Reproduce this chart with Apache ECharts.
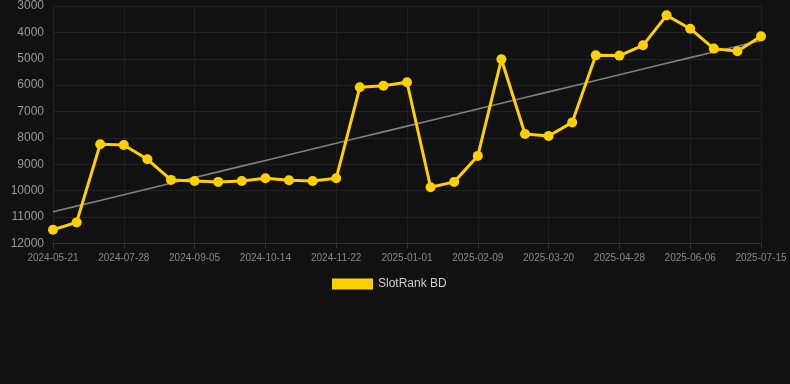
<!DOCTYPE html>
<html>
<head>
<meta charset="utf-8">
<script src="https://cdn.jsdelivr.net/npm/echarts@6/dist/echarts.min.js"></script>
<style>
html,body{margin:0;padding:0;background:#111111;}
#chart{width:790px;height:384px;}
</style>
</head>
<body>
<div id="chart"></div>
<script>
var dates = [
  '2024-05-21','2024-06-12','2024-07-15','2024-07-28','2024-08-10','2024-08-23',
  '2024-09-05','2024-09-18','2024-10-01','2024-10-14','2024-10-27','2024-11-09',
  '2024-11-22','2024-12-05','2024-12-19','2025-01-01','2025-01-14','2025-01-27',
  '2025-02-09','2025-02-22','2025-03-07','2025-03-20','2025-04-02','2025-04-15',
  '2025-04-28','2025-05-11','2025-05-24','2025-06-06','2025-06-19','2025-07-02',
  '2025-07-15'
];
var rankValues = [
  11480, 11200, 8240, 8265, 8810, 9590, 9630, 9665, 9630, 9530, 9605, 9630, 9530,
  6080, 6020, 5890, 9870, 9665, 8680, 5020, 7850, 7925, 7410, 4870, 4880, 4490,
  3355, 3860, 4615, 4715, 4150
];
var seriesName = 'SlotRank BD';
var yMin = 3000, yMax = 12000, yStep = 1000;

// linear regression trend computed from the data
var n = rankValues.length, sx = 0, sy = 0, sxy = 0, sxx = 0;
for (var i = 0; i < n; i++) { sx += i; sy += rankValues[i]; sxy += i * rankValues[i]; sxx += i * i; }
var slope = (n * sxy - sx * sy) / (n * sxx - sx * sx);
var intercept = (sy - slope * sx) / n;
var trend = rankValues.map(function (_, i) { return Math.round(intercept + slope * i); });

var chart = echarts.init(document.getElementById('chart'));
chart.setOption({
  backgroundColor: '#111111',
  animation: false,
  grid: { left: 53, right: 29, top: 6, bottom: 140.5 },
  legend: {
    data: [seriesName],
    top: 273,
    left: 327,
    itemWidth: 41,
    itemHeight: 11,
    itemGap: 10,
    icon: 'rect',
    textStyle: { color: '#cccccc', fontSize: 12, fontFamily: 'Arial, Liberation Sans, sans-serif' }
  },
  xAxis: {
    type: 'category',
    data: dates,
    boundaryGap: false,
    axisLine: { lineStyle: { color: '#333333' } },
    axisTick: { show: true, interval: 2, lineStyle: { color: '#333333' } },
    axisLabel: { interval: 2, color: '#888888', fontSize: 10, margin: 10, fontFamily: 'Arial, Liberation Sans, sans-serif' },
    splitLine: { show: true, interval: 2, lineStyle: { color: '#1f1f1f' } }
  },
  yAxis: {
    type: 'value',
    inverse: true,
    min: yMin,
    max: yMax,
    interval: yStep,
    axisLine: { show: false },
    axisTick: { show: false },
    axisLabel: { color: '#999999', fontSize: 12, margin: 9, fontFamily: 'Arial, Liberation Sans, sans-serif',
      formatter: function (v) { return String(v); } },
    splitLine: { lineStyle: { color: '#222222' } }
  },
  series: [
    {
      name: 'trend',
      type: 'line',
      data: trend,
      symbol: 'none',
      silent: true,
      lineStyle: { color: '#808080', width: 1.6 },
      z: 1
    },
    {
      name: seriesName,
      type: 'line',
      data: rankValues,
      symbol: 'circle',
      symbolSize: 10,
      itemStyle: { color: '#FFD000' },
      lineStyle: { color: '#FFD000', width: 3 },
      z: 2
    }
  ]
});
</script>
</body>
</html>
